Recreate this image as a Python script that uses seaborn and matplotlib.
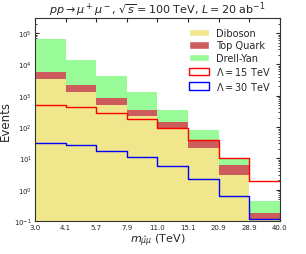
import matplotlib
matplotlib.use('Agg')
import matplotlib.pyplot as plt
import seaborn as sns
import numpy as np
import pandas as pd
from matplotlib.patches import Patch

edge_labels = ['3.0', '4.1', '5.7', '7.9', '11.0', '15.1', '20.9', '28.9', '40.0']
diboson = [3400, 1300, 525, 225, 88, 22, 2.95, 0.11]
top_quark = [2500, 850, 325, 115, 62, 18, 3.35, 0.07]
drell_yan = [57000, 11850, 3550, 960, 190, 40, 3.3, 0.25]
lam15 = [515, 435, 280, 183, 92, 40, 10.5, 1.95]
lam30 = [32, 27.5, 17.5, 11.5, 5.6, 2.2, 0.65, 0.12]

sns.set_style('ticks')
plt.rcParams['font.family'] = ['DejaVu Sans']

edges = list(range(len(edge_labels)))
centers = [e + 0.5 for e in edges[:-1]]

df = pd.DataFrame({
    'bin': centers * 3,
    'events': diboson + top_quark + drell_yan,
    'process': ['Diboson'] * 8 + ['Top Quark'] * 8 + ['Drell-Yan'] * 8,
})
colors = {'Diboson': '#f0e68c', 'Top Quark': '#cd5c5c', 'Drell-Yan': '#98fb98'}

fig = plt.figure(figsize=(3.06, 2.55), dpi=100)
ax = fig.add_axes([0.114, 0.129, 0.801, 0.796])

sns.histplot(data=df, x='bin', weights='events', hue='process', bins=edges,
             multiple='stack', hue_order=['Drell-Yan', 'Top Quark', 'Diboson'],
             palette=colors, alpha=1, linewidth=0, legend=False, ax=ax)
sns.histplot(x=centers, weights=lam15, bins=edges, element='step', fill=False,
             color='red', linewidth=1.0, ax=ax)
sns.histplot(x=centers, weights=lam30, bins=edges, element='step', fill=False,
             color='blue', linewidth=1.0, ax=ax)

ax.set_yscale('log')
ax.set_ylim(0.1, 3e5)
ax.set_xlim(0, 8)
ax.set_xticks(edges)
ax.set_xticklabels(edge_labels)
ax.tick_params(which='both', direction='in', top=True, right=True, labelsize=5, pad=2)
ax.tick_params(which='major', length=3)
ax.tick_params(which='minor', length=1.5)
for s in ax.spines.values():
    s.set_color('#333333')

ax.set_xlabel(r'$m_{\hat{\mu}\mu}$ (TeV)', fontsize=8, labelpad=1)
ax.set_ylabel('Events', fontsize=8.5, labelpad=2)
ax.set_title(r'$pp \to \mu^+\mu^-$, $\sqrt{s} = 100$ TeV, $L = 20$ ab$^{-1}$',
             fontsize=8, pad=3)

handles = [
    Patch(facecolor=colors['Diboson'], label='Diboson'),
    Patch(facecolor=colors['Top Quark'], label='Top Quark'),
    Patch(facecolor=colors['Drell-Yan'], label='Drell-Yan'),
    Patch(facecolor='none', edgecolor='red', label=r'$\Lambda = 15$ TeV'),
    Patch(facecolor='none', edgecolor='blue', label=r'$\Lambda = 30$ TeV'),
]
ax.legend(handles=handles, loc='upper right', frameon=False, fontsize=7,
          handlelength=2.0, handleheight=0.8, handletextpad=0.7,
          labelspacing=0.25, borderaxespad=0.6)

fig.savefig('out.png', dpi=100)
